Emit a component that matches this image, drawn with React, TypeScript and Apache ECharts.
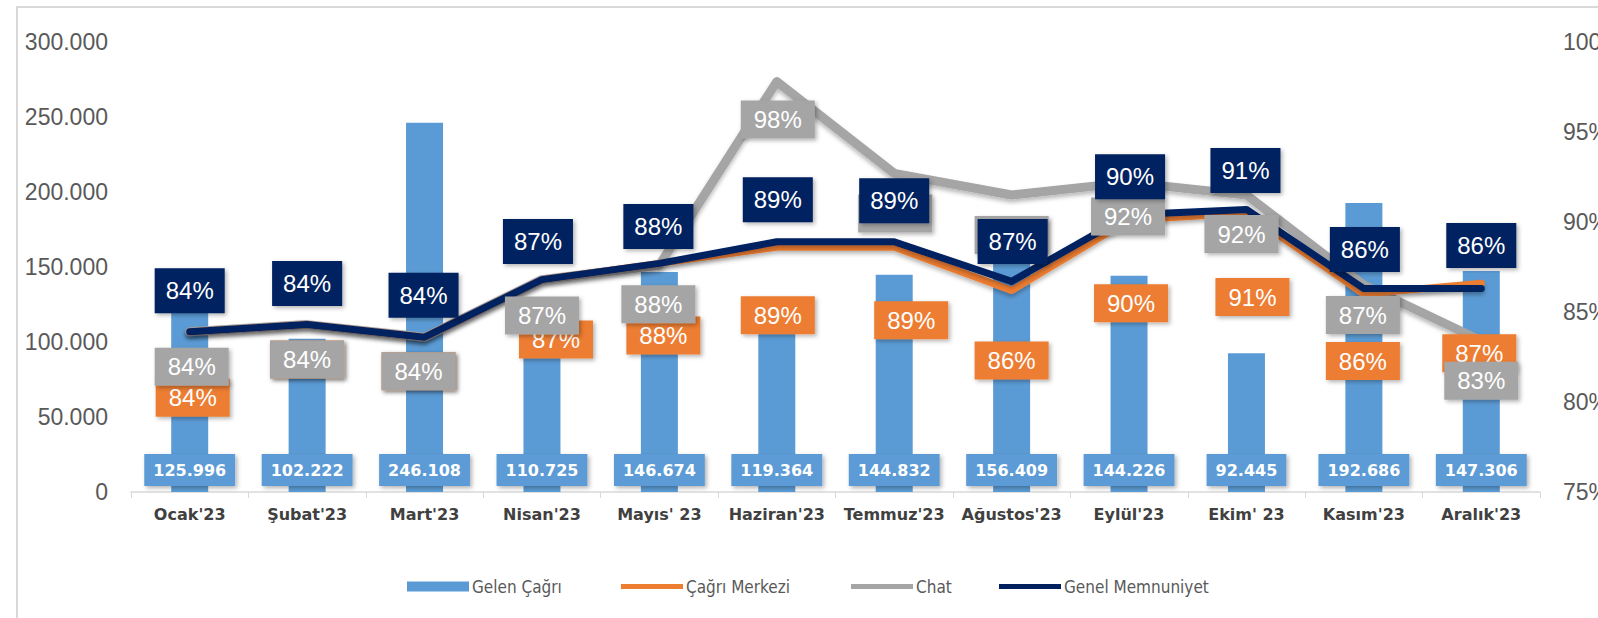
import React, { useEffect, useRef } from "react";
import * as echarts from "echarts";

const months = ["Ocak'23", "Şubat'23", "Mart'23", "Nisan'23", "Mayıs' 23", "Haziran'23", "Temmuz'23", "Ağustos'23", "Eylül'23", "Ekim' 23", "Kasım'23", "Aralık'23"];
const gelenCagri = [125996, 102222, 246108, 110725, 146674, 119364, 144832, 156409, 144226, 92445, 192686, 147306];
const cagriMerkezi = [83.9, 84.3, 83.6, 86.8, 87.7, 88.6, 88.6, 86.2, 90.1, 90.5, 86.0, 86.6];
const chat = [83.9, 84.3, 83.6, 86.8, 87.6, 97.8, 92.7, 91.5, 92.2, 91.5, 86.5, 83.4];
const genelMemnuniyet = [83.9, 84.3, 83.6, 86.8, 87.7, 88.9, 88.9, 86.7, 90.4, 90.7, 86.3, 86.3];
const leftTicks = { min: 0, max: 300000, interval: 50000 };
const rightTicks = { min: 75, max: 100, interval: 5 };
const legendNames = ["Gelen Çağrı", "Çağrı Merkezi", "Chat", "Genel Memnuniyet"];

// label placement (layout, pixels relative to each point)
const navyOffX = [0, 0, -1, -4, -1, 1, 0, 1, 1, -1, 1, 0];
const navyOffY = [-41, -41, -42, -38, -37, -42, -41, -40, -38, -39, -39, -43];
const orangeOffX = [3, 0, -6, 14, 4, 1, 17, 0, 2, 6, -1, -2];
const orangeOffY = [66, 35, 34, 60, 72, 68, 73, 70, 83, 84, 67, 70];
const grayOffX = [2, 0, -6, 0, -1, 1, 1, 0, -1, -5, -1, 0];
const grayOffY = [35, 35, 34, 36, 39, 38, 40, 40, 34, 39, 30, 40];
const legendLefts = [402, 616, 846, 994];

const BLUE = "#5b9bd5";
const ORANGE = "#ed7d31";
const GRAY = "#a5a5a5";
const NAVY = "#002060";
const LINE_ICON = "path://M0,0 L62,0 L62,5 L0,5 Z";

const thousands = (n: number) => String(n).replace(/\B(?=(\d{3})+(?!\d))/g, ".");

function withOffsets(vals: number[], ox: number[], oy: number[]) {
  return vals.map((v, i) => ({ value: v, label: { offset: [ox[i], oy[i]] } }));
}

function pctLabel(bg: string, pad: number[], lh: number) {
  return {
    show: true,
    position: "inside",
    formatter: (p: any) => Math.round(p.value) + "%",
    color: "#ffffff",
    opacity: 1,
    fontFamily: "Liberation Sans, Arial, sans-serif",
    fontSize: 24,
    lineHeight: lh,
    backgroundColor: bg,
    padding: pad,
    shadowColor: "rgba(0,0,0,0.3)",
    shadowBlur: 4,
    shadowOffsetX: 2,
    shadowOffsetY: 2,
  };
}

function lineSeries(name: string, vals: number[], color: string, width: number, z: number) {
  return {
    name,
    type: "line",
    yAxisIndex: 1,
    data: vals,
    symbol: "none",
    itemStyle: { color },
    lineStyle: {
      color,
      width,
      cap: "round",
      join: "round",
      shadowColor: "rgba(0,0,0,0.28)",
      shadowBlur: 4,
      shadowOffsetY: 3,
    },
    z,
  };
}

function labelSeries(name: string, vals: number[], ox: number[], oy: number[], bg: string, pad: number[], lh: number, z: number) {
  return {
    name,
    type: "scatter",
    yAxisIndex: 1,
    data: withOffsets(vals, ox, oy),
    symbolSize: 1,
    itemStyle: { color: "rgba(0,0,0,0)", opacity: 1 },
    label: pctLabel(bg, pad, lh),
    silent: true,
    z,
  };
}

export default function App() {
  const ref = useRef<HTMLDivElement>(null);
  useEffect(() => {
    if (!ref.current) return;
    const chart = echarts.init(ref.current, undefined, { renderer: "svg" });
    const axisFont = { fontFamily: "Liberation Sans, Arial, sans-serif", fontSize: 23, color: "#595959" };
    const icons = ["rect", LINE_ICON, LINE_ICON, LINE_ICON];
    chart.setOption({
      animation: false,
      backgroundColor: "#ffffff",
      graphic: [
        {
          type: "rect",
          shape: { x: 17, y: 7, width: 1620, height: 700 },
          style: { fill: "none", stroke: "#d9d9d9", lineWidth: 2 },
          silent: true,
        },
      ],
      grid: { left: 131, right: 58, top: 42, bottom: 126, containLabel: false, outerBoundsMode: "none" },
      legend: legendNames.map((n, i) => ({
        left: legendLefts[i],
        top: 573,
        itemWidth: 62,
        itemHeight: 10,
        textStyle: {
          fontFamily: "DejaVu Sans Condensed, Liberation Sans Narrow, DejaVu Sans, sans-serif",
          fontSize: 17,
          color: "#595959",
          padding: [0, 0, 0, -2],
        },
        data: [{ name: n, icon: icons[i] }],
      })),
      xAxis: {
        type: "category",
        data: months,
        boundaryGap: true,
        axisLine: { lineStyle: { color: "#d9d9d9", width: 1.5 } },
        axisTick: { show: true, length: 6, lineStyle: { color: "#d9d9d9" } },
        axisLabel: {
          interval: 0,
          margin: 14,
          fontFamily: "DejaVu Sans, sans-serif",
          fontWeight: "bold",
          fontSize: 16,
          color: "#404040",
        },
      },
      yAxis: [
        {
          type: "value",
          min: leftTicks.min,
          max: leftTicks.max,
          interval: leftTicks.interval,
          axisLine: { show: false },
          axisTick: { show: false },
          splitLine: { show: false },
          axisLabel: { ...axisFont, margin: 23, formatter: (v: number) => thousands(v) },
        },
        {
          type: "value",
          position: "right",
          min: rightTicks.min,
          max: rightTicks.max,
          interval: rightTicks.interval,
          axisLine: { show: false },
          axisTick: { show: false },
          splitLine: { show: false },
          axisLabel: { ...axisFont, margin: 23, formatter: (v: number) => v + "%" },
        },
      ],
      series: [
        {
          name: legendNames[0],
          type: "bar",
          data: gelenCagri,
          barWidth: 37,
          itemStyle: { color: BLUE },
          label: {
            show: true,
            position: "insideBottom",
            distance: 6,
            formatter: (p: any) => thousands(p.value),
            color: "#ffffff",
            fontFamily: "DejaVu Sans, sans-serif",
            fontWeight: "bold",
            fontSize: 16,
            lineHeight: 18,
            backgroundColor: BLUE,
            padding: [7, 9],
            shadowColor: "rgba(0,0,0,0.3)",
            shadowBlur: 4,
            shadowOffsetX: 2,
            shadowOffsetY: 2,
          },
          z: 1,
        },
        lineSeries(legendNames[2], chat, GRAY, 9, 2),
        lineSeries(legendNames[1], cagriMerkezi, ORANGE, 7, 3),
        lineSeries(legendNames[3], genelMemnuniyet, NAVY, 7, 4),
        labelSeries("orange-labels", cagriMerkezi, orangeOffX, orangeOffY, ORANGE, [6, 13], 26, 10),
        labelSeries("gray-labels", chat, grayOffX, grayOffY, GRAY, [6, 13], 26, 11),
        labelSeries("navy-labels", genelMemnuniyet, navyOffX, navyOffY, NAVY, [9, 11], 27, 12),
      ],
    });
    return () => chart.dispose();
  }, []);
  return <div ref={ref} style={{ position: "fixed", left: 0, top: 0, width: 1598, height: 618 }} />;
}
